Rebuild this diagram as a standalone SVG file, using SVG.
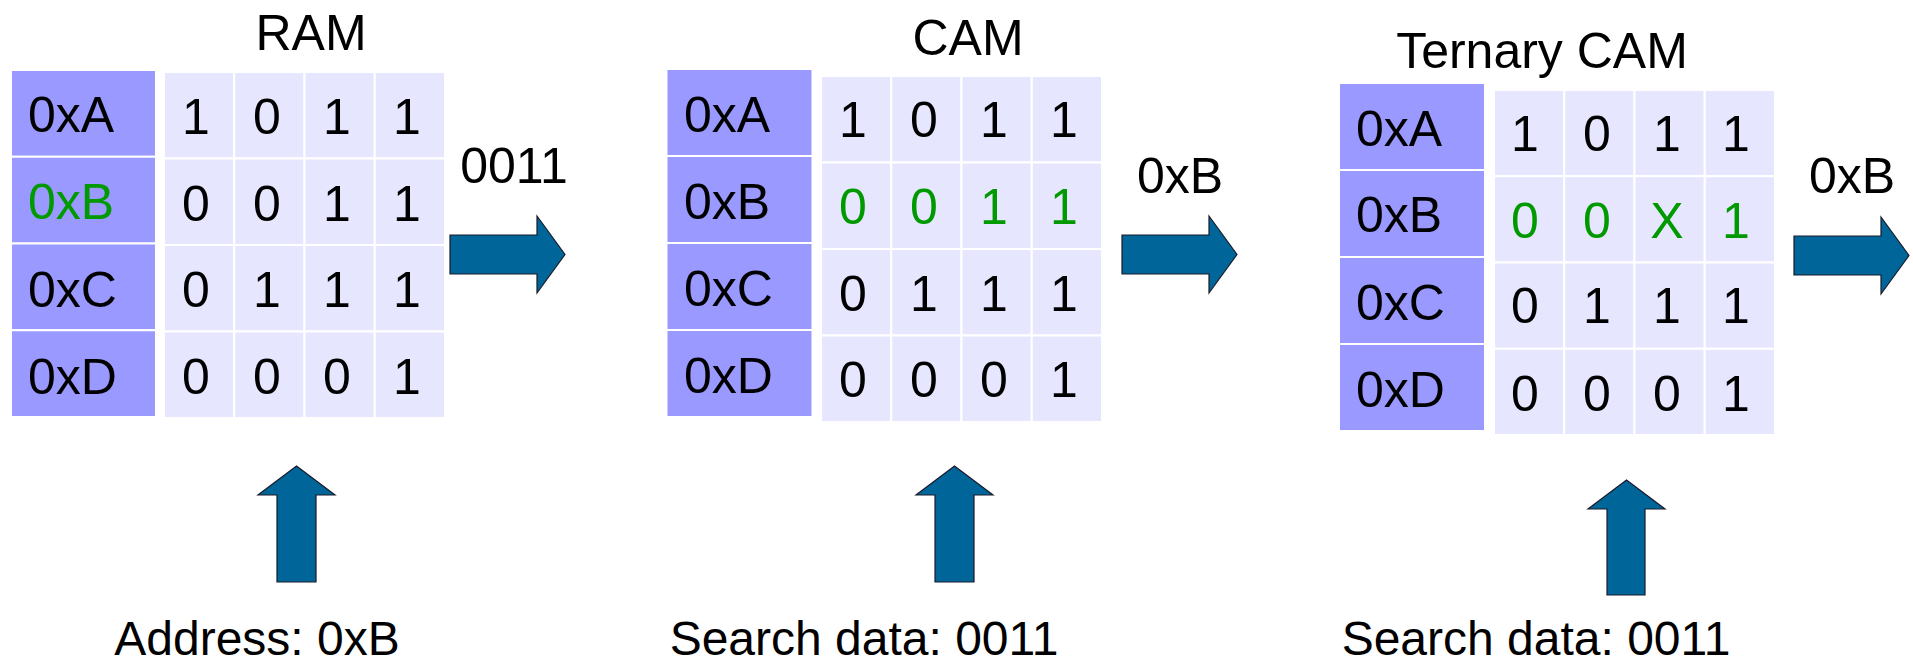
<svg xmlns="http://www.w3.org/2000/svg" width="1913" height="667" viewBox="0 0 1913 667">
<style>
text{font-family:"Liberation Sans","DejaVu Sans",sans-serif;fill:#000}
.t{font-size:50px;text-anchor:middle}
.b{font-size:48px;text-anchor:middle}
.lbl{font-size:50px}
.d{font-size:50px;text-anchor:middle}
.g{fill:#009900}
.addr{fill:#9999ff;stroke:#ffffff;stroke-width:2}
.cell{fill:#e6e6ff;stroke:#ffffff;stroke-width:2}
.arr{fill:#006699;stroke:#1a1a2a;stroke-width:1.2;stroke-linejoin:miter}
</style>
<rect width="1913" height="667" fill="#ffffff"/>

<g id="ram">
<text class="t" x="311" y="50">RAM</text>
<rect class="addr" x="11" y="70" width="145" height="86.75"/>
<rect class="addr" x="11" y="156.75" width="145" height="86.75"/>
<rect class="addr" x="11" y="243.5" width="145" height="86.75"/>
<rect class="addr" x="11" y="330.25" width="145" height="86.75"/>
<text class="lbl" x="28" y="132">0xA</text>
<text class="lbl g" x="28" y="219">0xB</text>
<text class="lbl" x="28" y="307">0xC</text>
<text class="lbl" x="28" y="394">0xD</text>
<g>
<rect class="cell" x="164" y="72" width="70.25" height="86.5"/><rect class="cell" x="234.25" y="72" width="70.25" height="86.5"/><rect class="cell" x="304.5" y="72" width="70.25" height="86.5"/><rect class="cell" x="374.75" y="72" width="70.25" height="86.5"/>
<rect class="cell" x="164" y="158.5" width="70.25" height="86.5"/><rect class="cell" x="234.25" y="158.5" width="70.25" height="86.5"/><rect class="cell" x="304.5" y="158.5" width="70.25" height="86.5"/><rect class="cell" x="374.75" y="158.5" width="70.25" height="86.5"/>
<rect class="cell" x="164" y="245" width="70.25" height="86.5"/><rect class="cell" x="234.25" y="245" width="70.25" height="86.5"/><rect class="cell" x="304.5" y="245" width="70.25" height="86.5"/><rect class="cell" x="374.75" y="245" width="70.25" height="86.5"/>
<rect class="cell" x="164" y="331.5" width="70.25" height="86.5"/><rect class="cell" x="234.25" y="331.5" width="70.25" height="86.5"/><rect class="cell" x="304.5" y="331.5" width="70.25" height="86.5"/><rect class="cell" x="374.75" y="331.5" width="70.25" height="86.5"/>
</g>
<text class="d" x="196" y="134">1</text><text class="d" x="267" y="134">0</text><text class="d" x="337" y="134">1</text><text class="d" x="407" y="134">1</text>
<text class="d" x="196" y="221">0</text><text class="d" x="267" y="221">0</text><text class="d" x="337" y="221">1</text><text class="d" x="407" y="221">1</text>
<text class="d" x="196" y="307">0</text><text class="d" x="267" y="307">1</text><text class="d" x="337" y="307">1</text><text class="d" x="407" y="307">1</text>
<text class="d" x="196" y="394">0</text><text class="d" x="267" y="394">0</text><text class="d" x="337" y="394">0</text><text class="d" x="407" y="394">1</text>
</g>

<g id="cam">
<text class="t" x="968" y="55">CAM</text>
<rect class="addr" x="666.5" y="69" width="146" height="87"/>
<rect class="addr" x="666.5" y="156" width="146" height="87"/>
<rect class="addr" x="666.5" y="243" width="146" height="87"/>
<rect class="addr" x="666.5" y="330" width="146" height="87"/>
<text class="lbl" x="684" y="132">0xA</text>
<text class="lbl" x="684" y="219">0xB</text>
<text class="lbl" x="684" y="306">0xC</text>
<text class="lbl" x="684" y="393">0xD</text>
<g>
<rect class="cell" x="821" y="76" width="70.25" height="86.5"/><rect class="cell" x="891.25" y="76" width="70.25" height="86.5"/><rect class="cell" x="961.5" y="76" width="70.25" height="86.5"/><rect class="cell" x="1031.75" y="76" width="70.25" height="86.5"/>
<rect class="cell" x="821" y="162.5" width="70.25" height="86.5"/><rect class="cell" x="891.25" y="162.5" width="70.25" height="86.5"/><rect class="cell" x="961.5" y="162.5" width="70.25" height="86.5"/><rect class="cell" x="1031.75" y="162.5" width="70.25" height="86.5"/>
<rect class="cell" x="821" y="249" width="70.25" height="86.5"/><rect class="cell" x="891.25" y="249" width="70.25" height="86.5"/><rect class="cell" x="961.5" y="249" width="70.25" height="86.5"/><rect class="cell" x="1031.75" y="249" width="70.25" height="86.5"/>
<rect class="cell" x="821" y="335.5" width="70.25" height="86.5"/><rect class="cell" x="891.25" y="335.5" width="70.25" height="86.5"/><rect class="cell" x="961.5" y="335.5" width="70.25" height="86.5"/><rect class="cell" x="1031.75" y="335.5" width="70.25" height="86.5"/>
</g>
<text class="d" x="853" y="137">1</text><text class="d" x="924" y="137">0</text><text class="d" x="994" y="137">1</text><text class="d" x="1064" y="137">1</text>
<text class="d g" x="853" y="224">0</text><text class="d g" x="924" y="224">0</text><text class="d g" x="994" y="224">1</text><text class="d g" x="1064" y="224">1</text>
<text class="d" x="853" y="311">0</text><text class="d" x="924" y="311">1</text><text class="d" x="994" y="311">1</text><text class="d" x="1064" y="311">1</text>
<text class="d" x="853" y="397">0</text><text class="d" x="924" y="397">0</text><text class="d" x="994" y="397">0</text><text class="d" x="1064" y="397">1</text>
</g>

<g id="tcam">
<text class="t" x="1542" y="68">Ternary CAM</text>
<rect class="addr" x="1339" y="83" width="146" height="87"/>
<rect class="addr" x="1339" y="170" width="146" height="87"/>
<rect class="addr" x="1339" y="257" width="146" height="87"/>
<rect class="addr" x="1339" y="344" width="146" height="87"/>
<text class="lbl" x="1356" y="146">0xA</text>
<text class="lbl" x="1356" y="232">0xB</text>
<text class="lbl" x="1356" y="320">0xC</text>
<text class="lbl" x="1356" y="407">0xD</text>
<g>
<rect class="cell" x="1494" y="90" width="70.25" height="86.25"/><rect class="cell" x="1564.25" y="90" width="70.25" height="86.25"/><rect class="cell" x="1634.5" y="90" width="70.25" height="86.25"/><rect class="cell" x="1704.75" y="90" width="70.25" height="86.25"/>
<rect class="cell" x="1494" y="176.25" width="70.25" height="86.25"/><rect class="cell" x="1564.25" y="176.25" width="70.25" height="86.25"/><rect class="cell" x="1634.5" y="176.25" width="70.25" height="86.25"/><rect class="cell" x="1704.75" y="176.25" width="70.25" height="86.25"/>
<rect class="cell" x="1494" y="262.5" width="70.25" height="86.25"/><rect class="cell" x="1564.25" y="262.5" width="70.25" height="86.25"/><rect class="cell" x="1634.5" y="262.5" width="70.25" height="86.25"/><rect class="cell" x="1704.75" y="262.5" width="70.25" height="86.25"/>
<rect class="cell" x="1494" y="348.75" width="70.25" height="86.25"/><rect class="cell" x="1564.25" y="348.75" width="70.25" height="86.25"/><rect class="cell" x="1634.5" y="348.75" width="70.25" height="86.25"/><rect class="cell" x="1704.75" y="348.75" width="70.25" height="86.25"/>
</g>
<text class="d" x="1525" y="151">1</text><text class="d" x="1597" y="151">0</text><text class="d" x="1667" y="151">1</text><text class="d" x="1736" y="151">1</text>
<text class="d g" x="1525" y="238">0</text><text class="d g" x="1597" y="238">0</text><text class="d g" x="1667" y="238">X</text><text class="d g" x="1736" y="238">1</text>
<text class="d" x="1525" y="323">0</text><text class="d" x="1597" y="323">1</text><text class="d" x="1667" y="323">1</text><text class="d" x="1736" y="323">1</text>
<text class="d" x="1525" y="411">0</text><text class="d" x="1597" y="411">0</text><text class="d" x="1667" y="411">0</text><text class="d" x="1736" y="411">1</text>
</g>

<g id="connectors">
<path class="arr" d="M450,235 H537 V216 L565,254.5 L537,293 V274 H450 Z"/>
<path class="arr" d="M1122,235 H1209 V216 L1237,254.5 L1209,293 V274 H1122 Z"/>
<path class="arr" d="M1794,236 H1881 V217 L1909,255.5 L1881,294 V275 H1794 Z"/>
<path class="arr" d="M277,582 V495 H258 L296.5,466 L335,495 H316 V582 Z"/>
<path class="arr" d="M935,582 V495 H916 L954.5,466 L993,495 H974 V582 Z"/>
<path class="arr" d="M1607,595 V509 H1588 L1626.5,480 L1665,509 H1645 V595 Z"/>
</g>

<g id="labels">
<text class="t" x="514" y="183">0011</text>
<text class="t" x="1180" y="193">0xB</text>
<text class="t" x="1852" y="193">0xB</text>
<text class="b" x="257" y="655">Address: 0xB</text>
<text class="b" x="864" y="655">Search data: 0011</text>
<text class="b" x="1536" y="655">Search data: 0011</text>
</g>
</svg>
